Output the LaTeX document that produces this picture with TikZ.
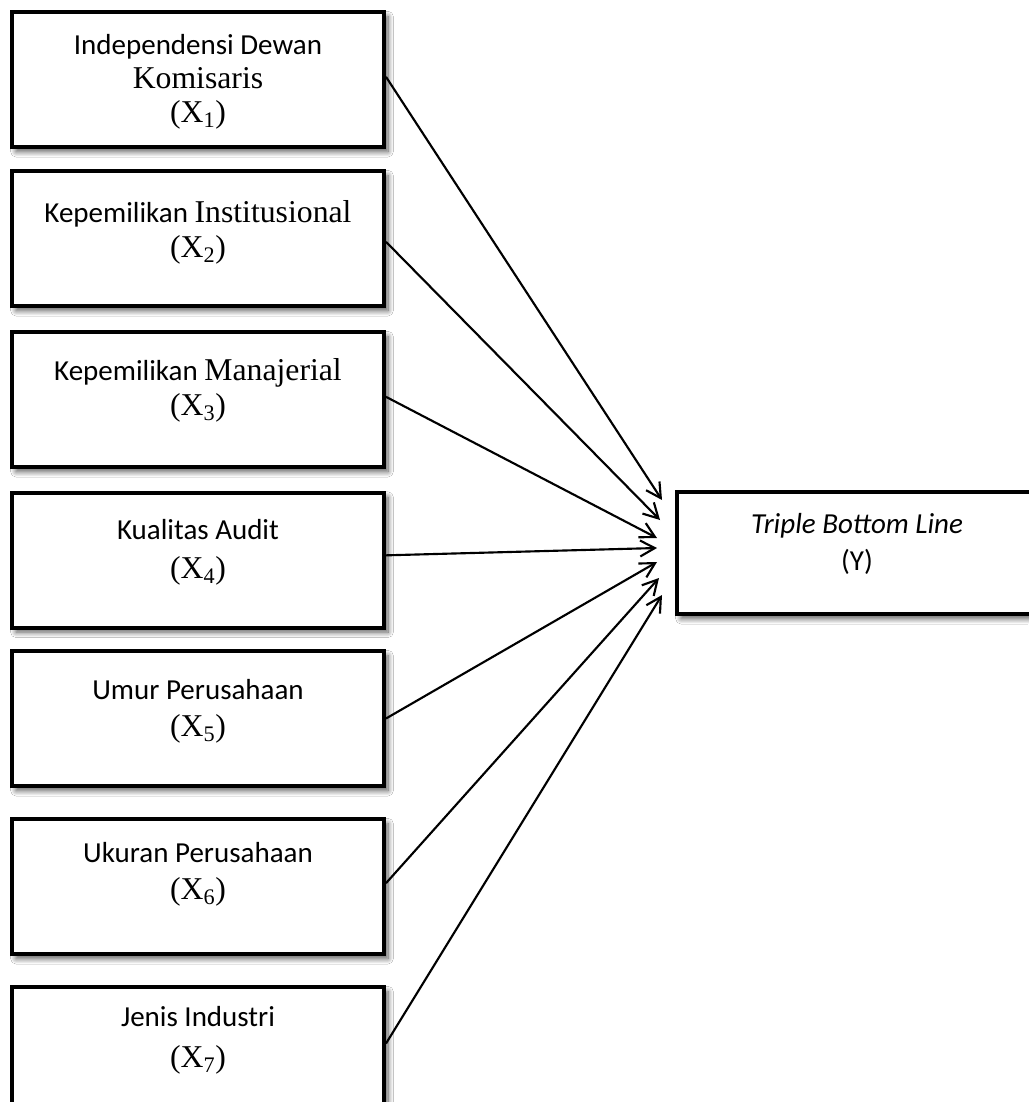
\documentclass[tikz,border=0pt]{standalone}
\usepackage{fontspec}
\setmainfont{Liberation Serif}
\newfontfamily\calfont{Carlito}
\newfontfamily\tnrfont{Liberation Serif}
\usetikzlibrary{arrows.meta,shadows.blur}
\newcommand{\cf}{\calfont\fontsize{21.75pt}{27pt}\selectfont}
\newcommand{\tf}{\tnrfont\fontsize{23.8pt}{27pt}\selectfont}
\newcommand{\lsk}[1]{\fontsize{23.8pt}{#1}\selectfont}
\begin{document}
\begin{tikzpicture}[x=0.75pt,y=-0.75pt,
  varbox/.style={draw=black,line width=3pt,fill=white,rectangle,inner sep=0pt,
    minimum width=279pt,minimum height=101.25pt,
    blur shadow={shadow xshift=3pt,shadow yshift=-3.5pt,shadow blur radius=4pt,shadow blur steps=10,shadow opacity=65}},
  ybox/.style={varbox,minimum width=272.25pt,minimum height=91.5pt},
  lbl/.style={align=center,inner sep=0pt},
  link/.style={line width=1.6pt,-{Straight Barb[length=11pt,width=12pt,line width=1.6pt]}}]
\useasboundingbox (0,0) rectangle (1028,1102);
\fill[white] (0,0) rectangle (1028,1102);
% boxes
\node[varbox] (b1) at (198,79.5) {};
\node[varbox] (b2) at (198,238.5) {};
\node[varbox] (b3) at (198,399.5) {};
\node[varbox] (b4) at (198,560) {};
\node[varbox] (b5) at (198,718.5) {};
\node[varbox] (b6) at (198,886.5) {};
\node[varbox] (b7) at (198,1054.5) {};
\node[ybox] (y) at (858.5,553) {};
% labels
\node[lbl,font=\lsk{25.5pt}] (t1) at (198,82) {{\cf Independensi Dewan}\\{\tf Komisaris}\\{\tf (X\textsubscript{1})}};
\node[lbl,font=\lsk{26.25pt}] (t2) at (198,232.5) {{\cf Kepemilikan }{\tf Institusional}\\{\tf (X\textsubscript{2})}};
\node[lbl,font=\lsk{26.25pt}] (t3) at (198,390.5) {{\cf Kepemilikan }{\tf Manajerial}\\{\tf (X\textsubscript{3})}};
\node[lbl,font=\lsk{29.25pt}] (t4) at (198,552.5) {{\cf Kualitas Audit}\\{\tf (X\textsubscript{4})}};
\node[lbl,font=\lsk{27.75pt}] (t5) at (198,711.5) {{\cf Umur Perusahaan}\\{\tf (X\textsubscript{5})}};
\node[lbl,font=\lsk{27.75pt}] (t6) at (198,874) {{\cf Ukuran Perusahaan}\\{\tf (X\textsubscript{6})}};
\node[lbl,font=\lsk{30.75pt}] (t7) at (198,1040.5) {{\cf Jenis Industri}\\{\tf (X\textsubscript{7})}};
\node[lbl,font=\lsk{27.75pt}] (ty) at (857,544) {{\cf\itshape Triple Bottom Line}\\{\cf (Y)}};
% arrow ends
\coordinate (e1) at (662,500);
\coordinate (e2) at (660,520);
\coordinate (e3) at (657,538);
\coordinate (e4) at (657,548);
\coordinate (e5) at (657,562);
\coordinate (e6) at (659,578);
\coordinate (e7) at (662,595);
% connectors
\draw[link] ([yshift=2pt]b1.east) -- (e1);
\draw[link] ([yshift=-2.5pt]b2.east) -- (e2);
\draw[link] ([yshift=2pt]b3.east) -- (e3);
\draw[link] ([yshift=3.5pt]b4.east) -- (e4);
\draw[link] (b5.east) -- (e5);
\draw[link] ([yshift=2.5pt]b6.east) -- (e6);
\draw[link] ([yshift=8.25pt]b7.east) -- (e7);
\end{tikzpicture}
\end{document}
